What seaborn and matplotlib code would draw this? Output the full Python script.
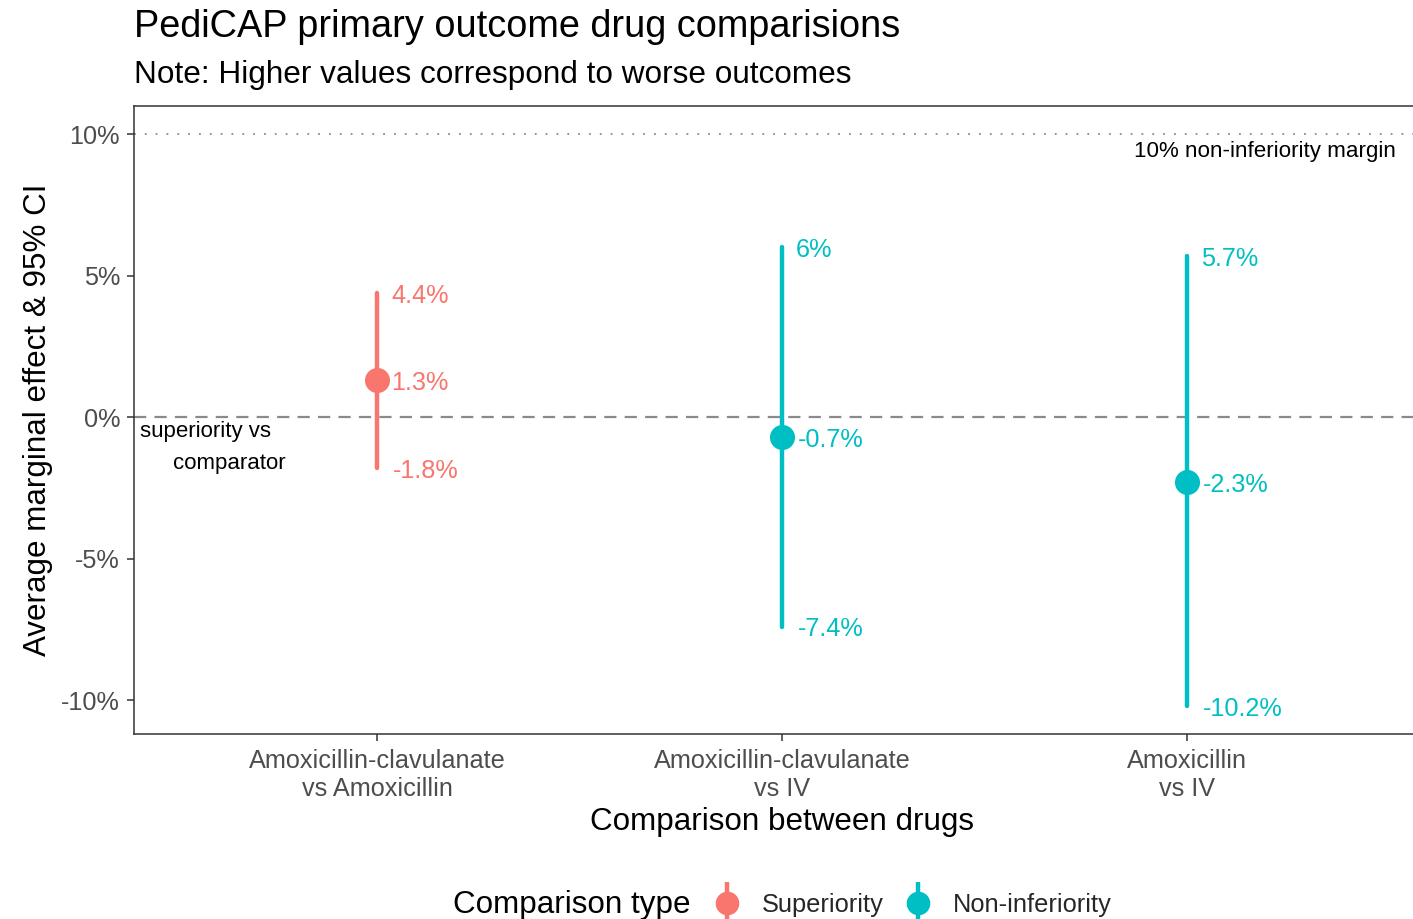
import matplotlib
matplotlib.use("Agg")
import matplotlib.pyplot as plt
import seaborn as sns
import pandas as pd
from matplotlib.lines import Line2D

# Comparisons, effect estimates and 95% confidence limits (percentage points)
comparisons = [
    "Amoxicillin-clavulanate\nvs Amoxicillin",
    "Amoxicillin-clavulanate\nvs IV",
    "Amoxicillin\nvs IV",
]
comparison_type = ["Superiority", "Non-inferiority", "Non-inferiority"]
estimate = [1.3, -0.7, -2.3]
ci_lower = [-1.8, -7.4, -10.2]
ci_upper = [4.4, 6.0, 5.7]

type_order = ["Superiority", "Non-inferiority"]
type_colors = ["#F8766D", "#00BFC4"]
y_ticks = [-10, -5, 0, 5, 10]
margin_value = 10

# Long format: lower limit, estimate and upper limit per comparison.
# The median of the three is the estimate, min/max give the interval.
rows = []
for comp, ctype, lo, est, hi in zip(comparisons, comparison_type, ci_lower, estimate, ci_upper):
    for v in (lo, est, hi):
        rows.append({"comparison": comp, "type": ctype, "value": v})
df = pd.DataFrame(rows)

sns.set_style("white")
plt.rcParams["font.family"] = ["Liberation Sans", "DejaVu Sans"]

W, H = 1413, 919
fig = plt.figure(figsize=(W / 100, H / 100), dpi=100)
ax = fig.add_axes([134 / W, 1 - 734 / H, (1430 - 134) / W, (734 - 106) / H])

palette = dict(zip(type_order, type_colors))
sns.pointplot(
    data=df, x="comparison", y="value", hue="type",
    order=comparisons, hue_order=type_order, palette=palette,
    estimator="median", errorbar=lambda v: (v.min(), v.max()),
    linestyle="none", dodge=False, markersize=16,
    err_kws={"linewidth": 3.2}, legend=False, ax=ax,
)

# Reference lines
ax.axhline(0, color="#8a8a8a", linewidth=1.6, linestyle=(0, (5.5, 3.7)), zorder=0)
ax.axhline(margin_value, color="#8a8a8a", linewidth=1.3, linestyle=(0, (1, 5)), zorder=0)

# Value labels next to each interval
for i, (ctype, lo, est, hi) in enumerate(zip(comparison_type, ci_lower, estimate, ci_upper)):
    col = palette[ctype]
    for v in (hi, est, lo):
        dx = 0.038 if v < 0 else 0.035
        ax.text(i + dx, v - 0.1, f"{v:g}%", color=col,
                fontsize=18.2, ha="left", va="center")

ax.text(2.515, 9.4, "10% non-inferiority margin", fontsize=16.1,
        color="black", ha="right", va="center")
ax.text(-0.585, -0.52, "superiority vs", fontsize=16, color="black",
        ha="left", va="center")
ax.text(-0.503, -1.64, "comparator", fontsize=16, color="black",
        ha="left", va="center")

ax.set_xlim(-0.6, 2.6)
ax.set_ylim(-11.2, 11.0)
ax.set_yticks(y_ticks)
ax.set_yticklabels([f"{t}%" for t in y_ticks])
ax.tick_params(axis="both", colors="#333333", labelcolor="#4d4d4d",
               labelsize=18.2, length=5, width=1.1, direction="out",
               left=True, bottom=True, pad=5)
ax.tick_params(axis="x", pad=6)
for lab in ax.get_xticklabels():
    lab.set_linespacing(1.2)

for s in ax.spines.values():
    s.set_visible(True)
    s.set_color("#333333")
    s.set_linewidth(1.1)

ax.set_xlabel("Comparison between drugs", fontsize=22.6, color="black", labelpad=4)
ax.set_ylabel("Average marginal effect & 95% CI", fontsize=22.6, color="black", labelpad=6)

fig.text(134 / W, 1 - 37 / H, "PediCAP primary outcome drug comparisions",
         fontsize=27.3, color="black", ha="left", va="baseline")
fig.text(134 / W, 1 - 83 / H, "Note: Higher values correspond to worse outcomes",
         fontsize=22.7, color="black", ha="left", va="baseline")

# Legend along the bottom, title to the left of the keys
fig.text(453 / W, 1 - 905 / H, "Comparison type", fontsize=22.6,
         color="black", ha="left", va="center")
handles = []
for c in type_colors:
    vline = Line2D([], [], marker="|", markersize=30, markeredgewidth=3.2,
                   color=c, linestyle="none")
    dot = Line2D([], [], marker="o", markersize=16, color=c, linestyle="none")
    handles.append((vline, dot))
fig.legend(handles, type_order, loc="center left",
           bbox_to_anchor=(714 / W, 1 - 905 / H), ncol=2, frameon=False,
           fontsize=18.3, handlelength=1.05, handletextpad=0.85,
           columnspacing=0.8, borderpad=0, borderaxespad=0)

fig.savefig("out.png", dpi=100)
